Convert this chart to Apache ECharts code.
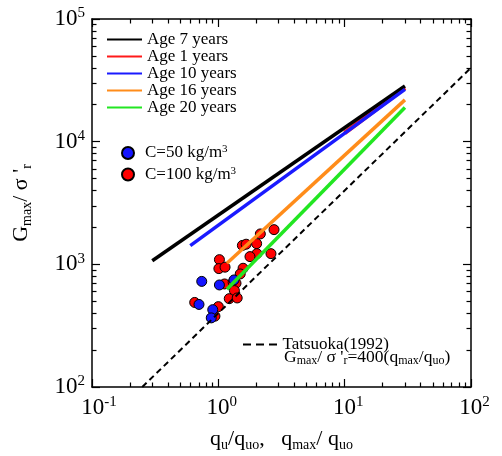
<!DOCTYPE html>
<html>
<head>
<meta charset="utf-8">
<script src="https://cdn.jsdelivr.net/npm/echarts@6/dist/echarts.min.js"></script>
<style>
  html, body { margin: 0; padding: 0; background: #fff; }
  #chart { width: 502px; height: 456px; }
</style>
</head>
<body>
<div id="chart"></div>
<script>
// 曲线名称（图例顺序）
const ageNames = ['Age 7 years', 'Age 1 years', 'Age 10 years', 'Age 16 years', 'Age 20 years']
const lineColors = ['#000000', '#ff1a1a', '#1a1aff', '#ff8c1a', '#22e622']
// 各龄期曲线端点 [q/quo, Gmax/σ'r]
const age7 = [[0.3, 1070], [30, 28400]]
const age1 = [[10, 11800], [30, 27500]]
const age10 = [[0.6, 1420], [30, 26700]]
const age16 = [[1.17, 1020], [30, 21900]]
const age20 = [[1.17, 627], [30, 19000]]
// Tatsuoka(1992): Gmax/σ'r = 400 (qmax/quo)
const tatsuoka = [[0.25, 100], [100, 40000]]
// 试验点
const c50 = [
  [0.739, 726], [1.02, 679], [1.33, 746], [0.703, 471], [0.903, 427], [0.879, 366]
]
const c100 = [
  [2.15, 1770], [2.76, 1918], [1.55, 1426], [1.66, 1459], [2.01, 1475],
  [2.02, 1222], [1.78, 1156], [2.61, 1222], [1.02, 1092], [1.01, 923],
  [1.13, 948], [1.57, 929], [1.49, 835], [1.12, 692], [1.31, 715],
  [1.38, 701], [1.34, 611], [1.22, 525], [1.41, 532], [0.65, 489],
  [1.0, 452], [0.94, 378]
]
// 副刻度位置
const minorX = [0.2, 0.3, 0.4, 0.5, 0.6, 0.7, 0.8, 0.9, 2, 3, 4, 5, 6, 7, 8, 9, 20, 30, 40, 50, 60, 70, 80, 90]
const minorY = [200, 300, 400, 500, 600, 700, 800, 900, 2000, 3000, 4000, 5000, 6000, 7000, 8000, 9000,
  20000, 30000, 40000, 50000, 60000, 70000, 80000, 90000]

const font = 'Liberation Serif'
const supLabel = v => {
  const e = Math.round(Math.log10(v))
  return '{b|10}{s|' + e + '}'
}
const tickRich = {
  b: { fontFamily: font, fontSize: 23, color: '#000', lineHeight: 26 },
  s: { fontFamily: font, fontSize: 15, color: '#000', verticalAlign: 'top', lineHeight: 26 },
  pw: { width: 14, fontSize: 14 },
  pn: { width: 7, fontSize: 14 }
}

// 生成坐标轴（主轴 + 副刻度 + 上/右镜像）
function makeAxes (dir) {
  const isX = dir === 'x'
  const range = isX ? [0.1, 100] : [100, 100000]
  const minor = isX ? minorX : minorY
  const pos = isX ? ['bottom', 'top'] : ['left', 'right']
  const base = {
    type: 'log',
    logBase: 10,
    min: range[0],
    max: range[1],
    gridIndex: 0,
    splitLine: { show: false }
  }
  const axes = []
  pos.forEach((p, i) => {
    axes.push(Object.assign({}, base, {
      position: p,
      axisLine: { show: true, onZero: false, lineStyle: { color: '#000', width: 1.5 } },
      axisTick: { inside: true, length: 8, lineStyle: { color: '#000', width: 1.2 } },
      axisLabel: i === 0
        ? {
            show: true,
            margin: isX ? 8 : 7,
            formatter: v => {
              const e = Math.round(Math.log10(v))
              // x 轴标签让 "10" 对准刻度
              if (isX) return '{' + (e < 0 ? 'pw' : 'pn') + '|}' + supLabel(v)
              return supLabel(v)
            },
            rich: tickRich
          }
        : { show: false }
    }))
    axes.push(Object.assign({}, base, {
      position: p,
      axisLine: { show: false, onZero: false },
      axisTick: { inside: true, length: 4.5, customValues: minor, lineStyle: { color: '#000', width: 1.2 } },
      axisLabel: { show: false }
    }))
  })
  return axes
}

const xAxes = makeAxes('x')
xAxes[0].name = '{q|q}{s|u}{q|/q}{s|uo}{q|,   q}{s|max}{q|/ q}{s|uo}'
xAxes[0].nameLocation = 'middle'
xAxes[0].nameGap = 39
xAxes[0].nameTextStyle = {
  rich: {
    q: { fontFamily: font, fontSize: 22, color: '#000', lineHeight: 26 },
    s: { fontFamily: font, fontSize: 14, color: '#000', verticalAlign: 'bottom', lineHeight: 26 }
  }
}
const yAxes = makeAxes('y')
yAxes[0].name = '{g|G}{s|max}{g|/ σ \'}{s|r}'
yAxes[0].nameLocation = 'middle'
yAxes[0].nameRotate = 90
yAxes[0].nameGap = 58
yAxes[0].nameTextStyle = {
  rich: {
    g: { fontFamily: font, fontSize: 22, color: '#000', lineHeight: 26 },
    s: { fontFamily: font, fontSize: 14, color: '#000', verticalAlign: 'bottom', lineHeight: 26 }
  }
}

const lineData = [age7, age1, age10, age16, age20]
// 画线顺序：红线在下
const drawOrder = [1, 0, 2, 3, 4]
const lineSeries = drawOrder.map(i => ({
  name: ageNames[i],
  type: 'line',
  symbol: 'none',
  data: lineData[i],
  lineStyle: { color: lineColors[i], width: i === 1 ? 4.5 : 3.5 },
  itemStyle: { color: lineColors[i] },
  silent: true
}))

const legendText = { fontFamily: font, fontSize: 17, color: '#000', lineHeight: 14 }

const option = {
  animation: false,
  backgroundColor: '#fff',
  grid: { left: 92, right: 31, top: 19, bottom: 69, outerBoundsMode: 'none' },
  xAxis: xAxes,
  yAxis: yAxes,
  legend: [
    {
      data: ageNames,
      orient: 'vertical',
      left: 102,
      top: 26,
      icon: 'rect',
      itemWidth: 35,
      itemHeight: 2,
      itemGap: 0,
      selectedMode: false,
      textStyle: legendText
    },
    {
      data: ['C=50 kg/m3', 'C=100 kg/m3'],
      orient: 'vertical',
      left: 116,
      top: 139,
      icon: 'circle',
      itemWidth: 12,
      itemHeight: 12,
      itemGap: 4,
      selectedMode: false,
      formatter: name => '{t|' + name.slice(0, -1) + '}{s|3}',
      textStyle: {
        padding: [0, 0, 0, 6],
        rich: {
          t: { fontFamily: font, fontSize: 17, color: '#000', lineHeight: 18 },
          s: { fontFamily: font, fontSize: 11, color: '#000', verticalAlign: 'top', lineHeight: 18 }
        }
      }
    },
    {
      data: ['Tatsuoka(1992)'],
      left: 238,
      top: 331,
      icon: 'path://M0,0h8v2h-8z M13,0h8v2h-8z M26,0h8v2h-8z',
      itemWidth: 35,
      itemHeight: 2,
      selectedMode: false,
      textStyle: legendText
    }
  ],
  graphic: [
    {
      type: 'text',
      left: 284,
      top: 348,
      style: {
        text: '{g|G}{s|max}{g|/ σ \'}{s|r}{g|=400(q}{s|max}{g|/q}{s|uo}{g|)}',
        rich: {
          g: { fontFamily: font, fontSize: 17.5, fill: '#000', lineHeight: 20 },
          s: { fontFamily: font, fontSize: 12, fill: '#000', verticalAlign: 'bottom', lineHeight: 20 }
        }
      }
    }
  ],
  series: [
    ...lineSeries,
    {
      name: 'Tatsuoka(1992)',
      type: 'line',
      symbol: 'none',
      data: tatsuoka,
      lineStyle: { color: '#000', width: 2, type: [6, 4] },
      itemStyle: { color: '#000' },
      silent: true
    },
    {
      name: 'C=100 kg/m3',
      type: 'scatter',
      symbol: 'circle',
      symbolSize: 10,
      data: c100,
      itemStyle: { color: '#ff0000', borderColor: '#000', borderWidth: 1, opacity: 1 }
    },
    {
      name: 'C=50 kg/m3',
      type: 'scatter',
      symbol: 'circle',
      symbolSize: 10,
      data: c50,
      itemStyle: { color: '#1414ff', borderColor: '#000', borderWidth: 1, opacity: 1 }
    }
  ]
}

const myChart = echarts.init(document.getElementById('chart'))
myChart.setOption(option)
</script>
</body>
</html>
